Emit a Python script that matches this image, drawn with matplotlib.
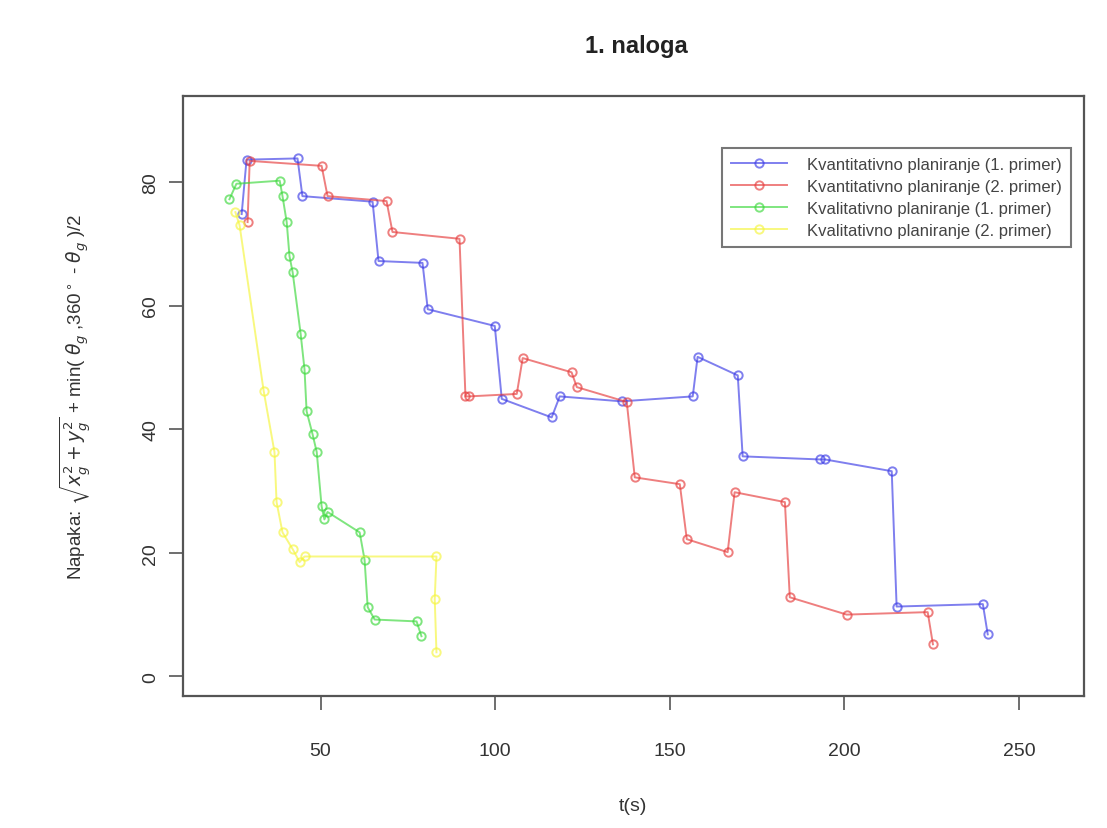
import matplotlib
matplotlib.use("Agg")
import matplotlib.pyplot as plt

plt.rcParams['font.family'] = ['Liberation Sans', 'DejaVu Sans']

title = "1. naloga"
xlabel = "t(s)"
ylabel = r"Napaka: $\sqrt{x_g^2+y_g^2}$ + min( $\theta_g$ ,360$^\circ$ - $\theta_g$ )/2"
xticks = [50, 100, 150, 200, 250]
yticks = [0, 20, 40, 60, 80]

labels = ["Kvantitativno planiranje (1. primer)",
          "Kvantitativno planiranje (2. primer)",
          "Kvalitativno planiranje (1. primer)",
          "Kvalitativno planiranje (2. primer)"]

t_blue = [27.4, 28.8, 43.4, 44.8, 64.9, 66.6, 79.2, 80.7, 99.9, 101.9, 116.2, 118.5,
          136.2, 156.6, 158.0, 169.5, 170.9, 193.0, 194.5, 213.6, 215.0, 239.7, 241.1]
v_blue = [74.8, 83.6, 83.8, 77.7, 76.8, 67.2, 66.9, 59.4, 56.7, 44.9, 41.9, 45.3,
          44.5, 45.3, 51.7, 48.7, 35.6, 35.1, 35.1, 33.2, 11.3, 11.7, 6.8]

t_red = [29.1, 29.7, 50.3, 52.0, 68.9, 70.6, 89.8, 91.5, 92.5, 106.2, 107.9, 121.9, 123.4,
         137.7, 140.0, 152.9, 154.9, 166.6, 168.6, 183.0, 184.4, 200.7, 223.9, 225.4]
v_red = [73.5, 83.4, 82.6, 77.7, 76.9, 71.9, 70.8, 45.3, 45.3, 45.7, 51.5, 49.2, 46.8,
         44.4, 32.2, 31.1, 22.2, 20.1, 29.8, 28.2, 12.8, 10.0, 10.4, 5.2]

t_green = [23.9, 25.9, 38.3, 39.1, 40.3, 41.1, 42.0, 44.3, 45.4, 46.0, 47.7, 48.9, 50.3,
           51.1, 52.0, 61.2, 62.6, 63.5, 65.5, 77.5, 78.9]
v_green = [77.2, 79.7, 80.2, 77.7, 73.5, 68.0, 65.4, 55.4, 49.7, 42.9, 39.2, 36.3, 27.5,
           25.4, 26.6, 23.3, 18.9, 11.2, 9.2, 8.9, 6.5]

t_yellow = [25.6, 26.8, 33.7, 36.8, 37.4, 39.1, 42.0, 44.0, 45.4,
            83.2, 82.7, 83.2]
v_yellow = [75.1, 73.0, 46.2, 36.3, 28.2, 23.3, 20.6, 18.5, 19.4,
            19.4, 12.5, 3.9]

series = [(t_blue, v_blue, "#3a3ae6"), (t_red, v_red, "#e63a3a"),
          (t_green, v_green, "#3ad83a"), (t_yellow, v_yellow, "#f5f53a")]

fig = plt.figure(figsize=(11.07, 8.29), dpi=100)
ax = fig.add_axes([0.165, 0.159, 0.814, 0.724])

for (t, v, c), lab in zip(series, labels):
    ax.plot(t, v, color=c, alpha=0.65, lw=1.4, marker='o', ms=6, mfc='none',
            mew=1.4, label=lab)

ax.set_xlim(10.5, 268.6)
ax.set_ylim(-3.2, 93.9)
ax.set_xticks(xticks)
ax.set_yticks(yticks)
ax.set_xticklabels([str(x) for x in xticks], fontsize=14, color='#333333')
ax.set_yticklabels([str(y) for y in yticks], fontsize=14, color='#333333',
                   rotation=90, va='center')
ax.tick_params(axis='x', length=10, width=1.2, color='#555555', pad=23)
ax.tick_params(axis='y', length=10, width=1.2, color='#555555', pad=7)
for s in ax.spines.values():
    s.set_color('#555555')
    s.set_linewidth(1.6)

ax.set_xlabel(xlabel, fontsize=14, color='#333333', labelpad=27)
ax.set_ylabel(ylabel, fontsize=13.5, color='#333333', labelpad=35)
ax.set_title(title, fontsize=17, fontweight='bold', color='#222222', pad=32, x=0.503)

leg = ax.legend(loc='upper right', bbox_to_anchor=(0.9956, 0.928), fontsize=12,
                frameon=True, fancybox=False, edgecolor='#555555',
                handlelength=3.4, borderpad=0.55, labelspacing=0.42, handletextpad=1.2)
leg.get_frame().set_linewidth(1.5)
for txt in leg.get_texts():
    txt.set_color('#444444')

fig.savefig("out.png", dpi=100)
